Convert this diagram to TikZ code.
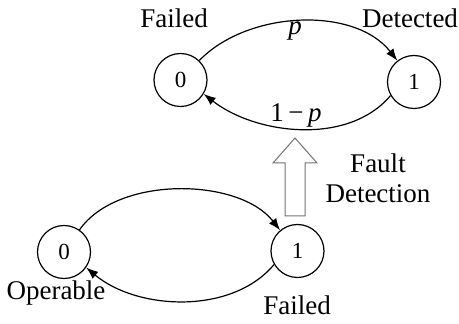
\documentclass[tikz,border=0pt]{standalone}
\usepackage{fontspec}
\setmainfont{Liberation Serif}
\usetikzlibrary{arrows.meta}
\tikzset{
  state/.style={circle, draw, line width=1.2pt, minimum size=53pt, inner sep=0pt, font=\fontsize{23}{26}\selectfont},
  lbl/.style={anchor=base, inner sep=0pt, font=\fontsize{27}{30}\selectfont},
  trans/.style={line width=1.2pt, -{Latex[length=12pt,width=9pt]}},
}
\begin{document}
\begin{tikzpicture}[x=1pt,y=1pt]
\useasboundingbox (0,0) rectangle (459,324);
% top diagram
\node[state] (t0) at (180.5,244) {0};
\node[state] (t1) at (414,242) {1};
\draw[trans] (t0.46) to[out=46,in=128,looseness=0.9] (t1.128);
\draw[trans] (t1.210) to[out=230,in=-38,looseness=0.9] (t0.-31);
\node[lbl] (lf) at (174,296) {Failed};
\node[lbl] (ld) at (410,296) {Detected};
\node[lbl] (lp) at (295,289) {\textit{p}};
\node[lbl] (lq) at (296,202) {1\,−\,\textit{p}};
% bottom diagram
\node[state] (b0) at (64,72) {0};
\node[state] (b1) at (297.5,73) {1};
\draw[trans] (b0.55) to[out=55,in=128,looseness=0.85] (b1.130);
\draw[trans] (b1.210) to[out=230,in=-40,looseness=0.9] (b0.-35);
\node[lbl] (lo) at (56,24) {Operable};
\node[lbl] (lf2) at (297,9) {Failed};
% block arrow
\draw[line width=1pt, draw=black!55, fill=white]
  (285,108) -- (305,108) -- (305,161) -- (317,161) -- (295,186) -- (273,161) -- (285,161) -- cycle;
\node[lbl, align=center, anchor=north] (fd) at (378,170) {Fault\\Detection};
\end{tikzpicture}
\end{document}
